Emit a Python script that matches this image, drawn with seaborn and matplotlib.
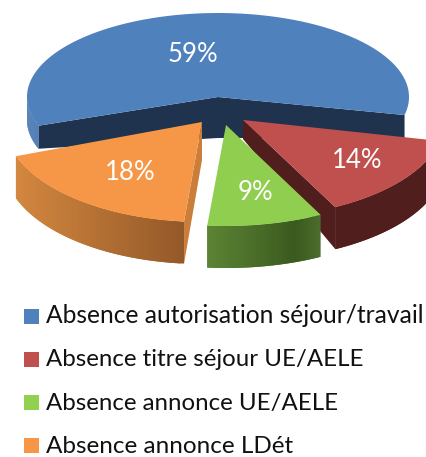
import numpy as np
import pandas as pd
import matplotlib
matplotlib.use("Agg")
import matplotlib.pyplot as plt
import seaborn as sns

# ----- data -----
categories = [
    "Absence autorisation séjour/travail",
    "Absence titre séjour UE/AELE",
    "Absence annonce UE/AELE",
    "Absence annonce LDét",
]
shares = [59, 14, 9, 18]

# ----- style -----
top_colors = ["#4f81bd", "#c0504d", "#8fce4f", "#f59747"]
legend_colors = ["#4f81bd", "#c0504d", "#92d050", "#f79646"]
inner_colors = ["#1f334f", "#4f1e1d", "#3c5c1f", "#cb7e3a"]
# gradient stops of the outer walls, from left to right
side_stops = [
    ([0, 1], ["#4a79b3", "#4a79b3"]),
    ([0, 1], ["#4f1e1d", "#4f1e1d"]),
    ([0, 0.77, 1], ["#5c8434", "#3a5a1e", "#4d6e2e"]),
    ([0, 1], ["#d3873f", "#935828"]),
]

# apex x, apex y, rx, ry, depth of the outer wall, in pixels
geometry = {
    0: (218, 97, 191, 84, 23),
    1: (243, 120, 202, 98, 42),
    2: (226, 125, 207, 101, 42),
    3: (202, 122, 198, 100, 42),
}
label_pos = [(193, 61.5), (357, 168), (130, 180), (255, 200)]
label_idx = [0, 1, 3, 2]
draw_order = [0, 1, 3, 2]
start_angle = 200.0

sns.set_theme(style="white")
plt.rcParams["font.family"] = ["Lato", "DejaVu Sans"]

fig = plt.figure(figsize=(4.27, 4.57), dpi=100)
ax = fig.add_axes([0, 0, 1, 1])
ax.set_xlim(0, 427)
ax.set_ylim(457, 0)
ax.axis("off")


def side_color(i, frac):
    pos, cols = side_stops[i]
    rgb = np.array([matplotlib.colors.to_rgb(c) for c in cols])
    return [np.interp(frac, pos, rgb[:, k]) for k in range(3)]


def arc(i, a0, a1, n=80):
    cx, cy, rx, ry, _ = geometry[i]
    t = np.radians(np.linspace(a0, a1, n))
    return cx + rx * np.cos(t), cy - ry * np.sin(t)


# slice angles come from the shares, clockwise from the start angle
bounds = start_angle - np.cumsum([0] + shares) * 3.6

for i in draw_order:
    a0, a1 = bounds[i], bounds[i + 1]
    cx, cy, rx, ry, depth = geometry[i]

    # inner walls
    if i == 0:
        xs, ys = arc(i, a0, a0, 1)
        xe, ye = arc(i, a1, a1, 1)
        ax.fill([xs[0], cx, cx, xs[0]], [ys[0], cy, cy + 41, ys[0] + depth], color=inner_colors[0], lw=0)
        ax.fill([xe[0], cx, cx, xe[0]], [ye[0], cy, cy + 41, ye[0] + depth], color=inner_colors[0], lw=0)
    if i == 1:
        xe, ye = arc(i, a1, a1, 1)
        ax.fill([cx, xe[0], xe[0], cx], [cy, ye[0], ye[0] + depth, cy + 19], color=inner_colors[1], lw=0)
    if i == 3:
        xs, ys = arc(i, a0, a0, 1)
        ax.fill([cx, xs[0], xs[0], cx], [cy, ys[0], ys[0] + depth, cy + 38], color=inner_colors[3], lw=0)

    # outer wall, small overlapping strips painted left to right for the gradient
    lo, hi = min(a0, a1), max(a0, a1)
    if i == 0:
        lo, hi = 180.0, a0
    x_all, _ = arc(i, lo, hi)
    angles = np.linspace(lo, hi, 70)
    steps = list(zip(angles[:-1], angles[1:]))
    if i != 0:
        steps = steps[::-1]
        step = angles[1] - angles[0]
    for a, b in steps:
        if i != 0:
            a = max(a - step, lo)
        else:
            b = min(b + (angles[1] - angles[0]), hi)
        xa, ya = arc(i, a, b, 6)
        frac = (xa.mean() - x_all.min()) / (x_all.max() - x_all.min())
        ax.fill(
            np.r_[xa, xa[::-1]],
            np.r_[ya, ya[::-1] + depth],
            color=side_color(i, frac), lw=0,
        )

    # top face
    xa, ya = arc(i, a0, a1, 160)
    ax.fill(np.r_[cx, xa], np.r_[cy, ya], color=top_colors[i], lw=0)

# value labels
for (x, y), i in zip(label_pos, label_idx):
    ax.text(x, y, f"{shares[i]}%", color="white", fontsize=18.5, ha="center", va="baseline")

# legend
legend_y = [316.5, 359.5, 402.5, 445.5]
legend_base = [323, 366.5, 410, 453]
legend_size = [17.75, 17.25, 17.25, 17.5]
legend_df = pd.DataFrame({"x": [31.5] * 4, "y": legend_y, "cat": categories})
sns.scatterplot(
    data=legend_df, x="x", y="y", hue="cat",
    palette=dict(zip(categories, legend_colors)),
    marker="s", s=118, linewidth=0, legend=False, ax=ax,
)
ax.set_xlim(0, 427)
ax.set_ylim(457, 0)
for y, size, name in zip(legend_base, legend_size, categories):
    ax.text(46, y, name, color="#111111", fontsize=size, ha="left", va="baseline")

fig.savefig("out.png", dpi=100)
